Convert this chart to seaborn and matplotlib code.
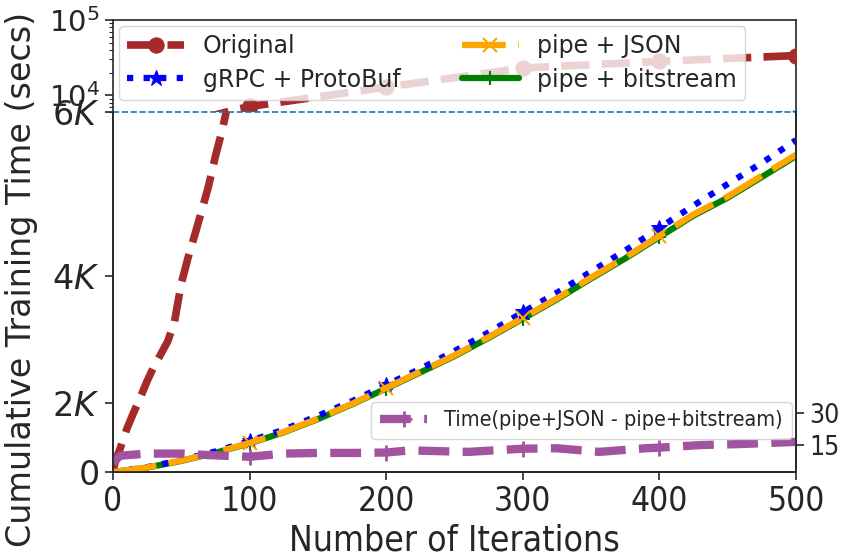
import numpy as np
import pandas as pd
import matplotlib
matplotlib.use("Agg")
import matplotlib.pyplot as plt
import seaborn as sns
from matplotlib.ticker import FixedLocator, NullFormatter, LogLocator

sns.set_style("ticks")
plt.rcParams['font.family'] = ['DejaVu Sans']

# ---------------- data ----------------
orig_iters = [0, 2, 5, 10, 15, 20, 25, 30, 35, 40, 45, 50, 55, 60, 65, 70, 75, 80, 85, 90, 95,
              100, 200, 300, 400, 500]
orig_vals = [150, 620, 950, 1450, 1800, 2100, 2400, 2650, 2850, 3050, 3350, 3900, 4250, 4550,
             4850, 5150, 5500, 5800, 6150, 6500, 6750,
             7100, 12800, 23000, 28200, 33700]

pipe_iters = [0, 25, 50, 75, 100, 125, 150, 175, 200, 225, 250, 275, 300, 325, 350, 375, 400,
              425, 450, 475, 500]
grpc_vals = [0, 340, 620, 890, 1170, 1440, 1740, 2030, 2330, 2610, 2900, 3190, 3490, 3770, 4060,
             4340, 4630, 4910, 5170, 5420, 5683]
json_vals = [0, 330, 600, 860, 1120, 1390, 1680, 1980, 2276, 2560, 2830, 3120, 3408, 3690, 3980,
             4250, 4530, 4800, 5020, 5270, 5515]
bits_vals = [0, 320, 590, 850, 1110, 1380, 1670, 1970, 2265, 2548, 2818, 3107, 3395, 3676, 3966,
             4236, 4515, 4785, 5005, 5254, 5499]

diff_iters = [0, 5, 25, 50, 70, 100, 125, 150, 175, 200, 217, 260, 300, 325, 356, 390, 400, 430,
              460, 500]
diff_vals = [6.5, 10, 11, 11, 10.3, 9.5, 11, 11.3, 11.3, 11.5, 12.5, 11.8, 13.3, 13.5, 11.8,
             13.5, 13.8, 15, 15.5, 16.5]

left_ticks = [0, 2000, 4000, 6000]
left_labels = ['0', r'$2K$', r'$4K$', r'$6K$']
x_ticks = [0, 100, 200, 300, 400, 500]
right_ticks = [15, 30]

# ---------------- figure ----------------
fig = plt.figure(figsize=(8.44, 5.58), dpi=100)
L, W = 0.1339, 0.8092
ax_top = fig.add_axes([L, 0.7993, W, 0.1649])
ax = fig.add_axes([L, 0.1541, W, 0.6452])
ax2 = ax.twinx()

def fwd(y):
    y = np.asarray(y, dtype=float)
    return np.sign(y) * np.abs(y) ** 1.5

def inv(y):
    y = np.asarray(y, dtype=float)
    return np.sign(y) * np.abs(y) ** (1 / 1.5)

def idx_every100(iters):
    return [i for i, v in enumerate(iters) if v in (100, 200, 300, 400, 500)]

def draw(a):
    sns.lineplot(x=orig_iters, y=orig_vals, ax=a, color='brown', lw=5.5,
                 linestyle='--', marker='o', markersize=11, markeredgecolor='brown',
                 markevery=idx_every100(orig_iters), label='Original', zorder=3)
    sns.lineplot(x=pipe_iters, y=grpc_vals, ax=a, color='blue', lw=4.5,
                 linestyle=':', marker='*', markersize=12, markeredgecolor='blue',
                 markevery=idx_every100(pipe_iters)[:4], label='gRPC + ProtoBuf', zorder=3)
    sns.lineplot(x=pipe_iters, y=json_vals, ax=a, color='orange', lw=4.5,
                 linestyle=(0, (7, 2)), marker='x', markersize=10, markeredgecolor='orange',
                 markeredgewidth=1.5,
                 markevery=idx_every100(pipe_iters)[:4], label='pipe + JSON', zorder=4)
    sns.lineplot(x=pipe_iters, y=bits_vals, ax=a, color='green', lw=4.5,
                 linestyle='-', marker='+', markersize=10, markeredgecolor='green',
                 markeredgewidth=1.5,
                 markevery=idx_every100(pipe_iters)[:4], label='pipe + bitstream', zorder=2.5)

draw(ax_top)
draw(ax)

# bottom axes: power scale
ax.set_yscale('function', functions=(fwd, inv))
ax.set_ylim(0, 6000)
ax.set_xlim(0, 500)
ax.yaxis.set_major_locator(FixedLocator(left_ticks))
ax.set_yticklabels(left_labels)
ax.set_xticks(x_ticks)
ax.axhline(6000, color='#1f77b4', lw=1.2, linestyle='--', zorder=5, clip_on=False)
ax.spines['top'].set_visible(False)
ax.set_xlabel('Number of Iterations', fontsize=25.5, labelpad=4, fontstretch='condensed')
ax.tick_params(axis='x', labelsize=24, length=6, width=1.2)
ax.tick_params(axis='y', labelsize=24, length=6, width=1.2)
for t in ax.get_xticklabels():
    t.set_fontstretch('condensed')
ax.get_legend().remove()

# top axes: log scale
ax_top.set_yscale('log')
ax_top.set_ylim(6000, 1e5)
ax_top.set_xlim(0, 500)
ax_top.yaxis.set_major_locator(LogLocator(base=10, numticks=5))
ax_top.yaxis.set_minor_locator(LogLocator(base=10, subs=np.arange(2, 10), numticks=10))
ax_top.yaxis.set_minor_formatter(NullFormatter())
ax_top.spines['bottom'].set_visible(False)
ax_top.tick_params(axis='x', bottom=False, labelbottom=False)
ax_top.tick_params(axis='y', labelsize=21, length=6, width=1.2)
ax_top.tick_params(axis='y', which='minor', length=3, width=0.8)
leg = ax_top.legend(loc='upper left', ncol=2, fontsize=17, framealpha=0.8,
                    handlelength=2.4, columnspacing=2.6, borderaxespad=0.25,
                    labelspacing=0.4, borderpad=0.35, bbox_to_anchor=(0.0, 1.0))
leg.set_zorder(10)

# twin axis for the difference
sns.lineplot(x=diff_iters, y=diff_vals, ax=ax2, color='#a2539f', lw=6, linestyle='--',
             marker='+', markersize=12, markeredgewidth=2, markeredgecolor='#a2539f',
             markevery=[i for i, v in enumerate(diff_iters) if v in (100, 200, 300, 400)],
             label='Time(pipe+JSON - pipe+bitstream)')
ax2.set_ylim(2.35, 171.4)
ax2.set_yticks(right_ticks)
ax2.tick_params(axis='y', labelsize=19, length=6, width=1.2)
for t in ax2.get_yticklabels():
    t.set_fontstretch('condensed')
ax2.spines['top'].set_visible(False)
ax2.set_ylabel('')
ax2.legend(loc='lower right', bbox_to_anchor=(1.0, 0.08), framealpha=0.8,
           handlelength=2.2, borderaxespad=0.2,
           prop={'size': 15.5, 'stretch': 'condensed'})

for a in (ax, ax_top, ax2):
    for s in a.spines.values():
        s.set_linewidth(1.2)

fig.text(0.026, 0.5, 'Cumulative Training Time (secs)', rotation=90, va='center',
         ha='center', fontsize=24)

fig.savefig('out.png', dpi=100)
